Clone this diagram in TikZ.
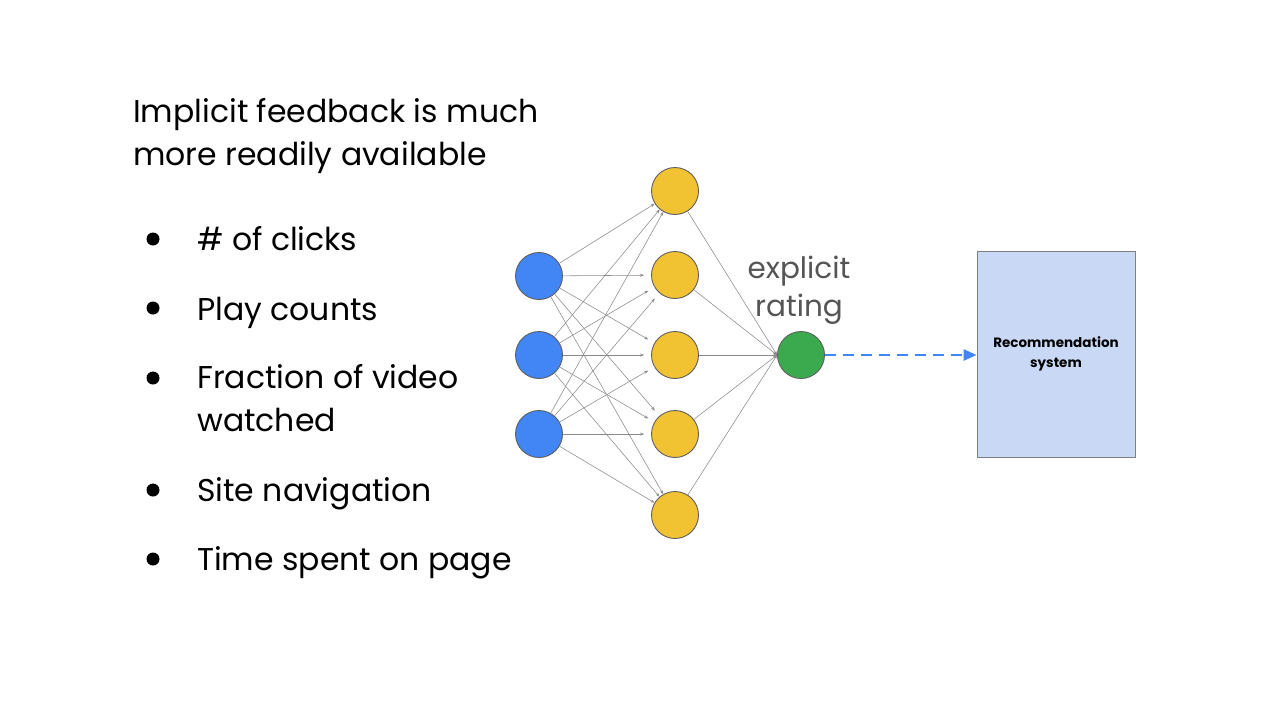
\documentclass[tikz,border=0pt]{standalone}
\usepackage{fontspec}
\setmainfont{Poppins}
\usetikzlibrary{arrows.meta}
\definecolor{gblue}{HTML}{4285F4}
\definecolor{gyellow}{HTML}{F1C232}
\definecolor{ggreen}{HTML}{3BAA4E}
\definecolor{edgegray}{HTML}{8A8A8A}
\definecolor{ringgray}{HTML}{5F5F5F}
\definecolor{boxfill}{HTML}{C9D8F5}
\definecolor{labgray}{HTML}{555555}
\begin{document}
\begin{tikzpicture}[x=1pt,y=-1pt,
  neuron/.style={circle,draw=ringgray,line width=0.9pt,minimum size=47pt,inner sep=0pt},
  inp/.style={neuron,fill=gblue},
  hid/.style={neuron,fill=gyellow},
  outn/.style={neuron,fill=ggreen},
  conn/.style={draw=edgegray,line width=0.55pt,-{Stealth[length=4pt,width=3pt]}},
  bigtext/.style={font=\fontsize{31.5}{42.5}\selectfont,anchor=base west,inner sep=0pt,align=left},
  bullet/.style={circle,fill=black,minimum size=13pt,inner sep=0pt}
]
\useasboundingbox (0,0) rectangle (1280,720);
% title (anchor is the baseline of the last line)
\node[bigtext] (title) at (133,165) {Implicit feedback is much\\more readily available};
% bullets
\foreach \y/\n in {239/b1,308/b2,378/b3,490/b4,559/b5}{
  \node[bullet] (\n) at (153,\y) {};
}
\node[bigtext] (t1) at (197,250) {\# of clicks};
\node[bigtext] (t2) at (197,320) {Play counts};
\node[bigtext] (t3) at (197,431) {Fraction of video\\watched};
\node[bigtext] (t4) at (197,501) {Site navigation};
\node[bigtext] (t5) at (197,570) {Time spent on page};
% network
\node[inp] (i1) at (539,276) {};
\node[inp] (i2) at (539,355) {};
\node[inp] (i3) at (539,434) {};
\node[hid] (h1) at (675,191) {};
\node[hid] (h2) at (675,275) {};
\node[hid] (h3) at (675,355) {};
\node[hid] (h4) at (675,434) {};
\node[hid] (h5) at (675,515) {};
\node[outn] (o) at (801,355) {};
\foreach \i in {1,2,3}{
  \draw[conn] (i\i) -- (h1);
  \draw[conn,shorten >=7pt] (i\i) -- (h2);
  \draw[conn,shorten >=7pt] (i\i) -- (h3);
  \draw[conn,shorten >=7pt] (i\i) -- (h4);
  \draw[conn] (i\i) -- (h5);
}
\foreach \j in {1,...,5}{
  \draw[conn] (h\j) -- (o.west);
}
\node[font=\fontsize{29.5}{38}\selectfont,text=labgray,align=center,anchor=base] (lab) at (799,316) {explicit\\rating};
% box
\node[draw=ringgray!80,line width=0.8pt,fill=boxfill,minimum width=158pt,minimum height=206pt,inner sep=0pt,
  font=\fontsize{13.5}{20}\selectfont\bfseries,align=center] (rs) at (1056,354) {Recommendation\\system};
\draw[gblue,line width=2.6pt,dash pattern=on 11pt off 7pt,-{Triangle[length=13pt,width=11pt]}] (o.east) -- (rs.west |- o.east);
\end{tikzpicture}
\end{document}
